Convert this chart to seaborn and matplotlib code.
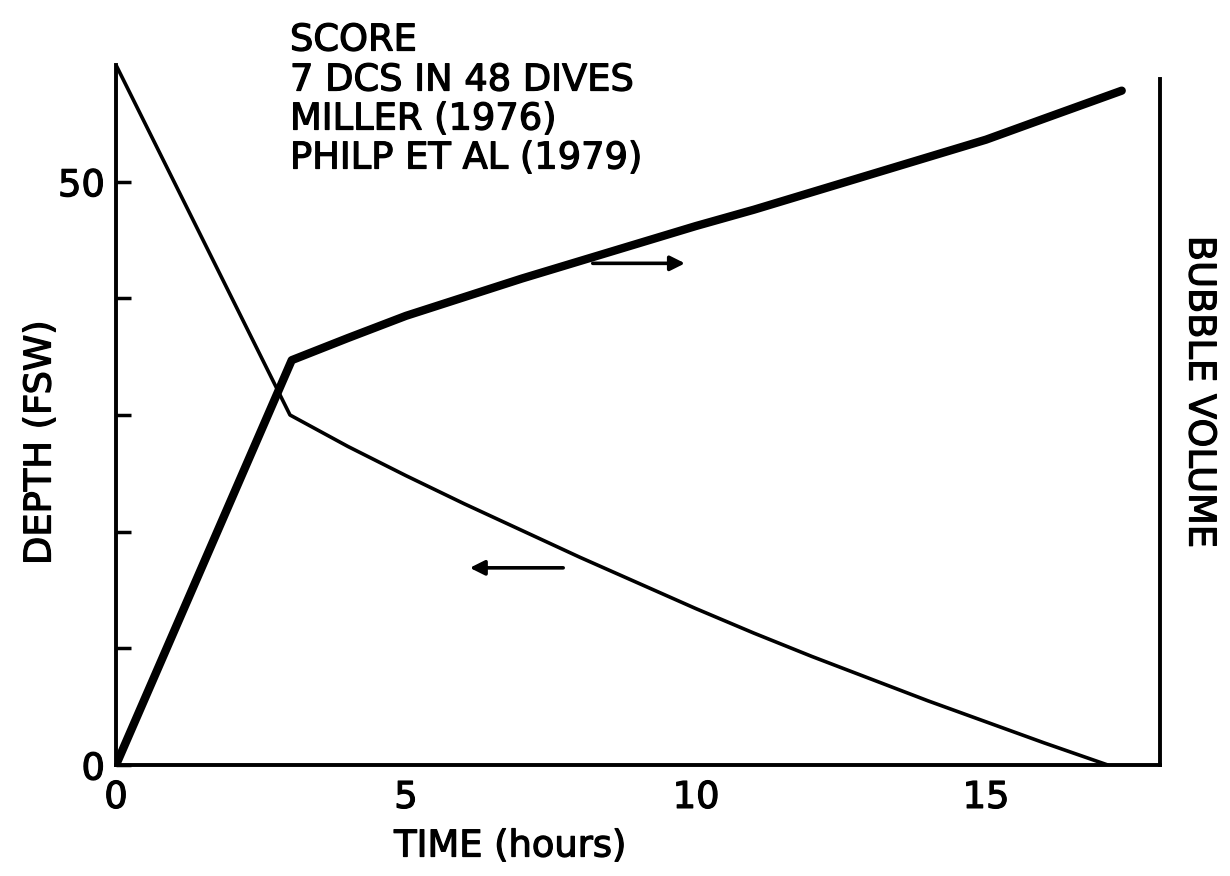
import matplotlib
matplotlib.use("Agg")
import matplotlib.pyplot as plt
import matplotlib.patheffects as pe
import seaborn as sns
import pandas as pd

# ---- data ----
depth_time = [0, 3.0, 4, 5, 6, 7, 8, 9, 10, 11, 12, 13, 14, 15, 16, 17.1]
depth_fsw = [60, 30, 27.3, 24.8, 22.4, 20.1, 17.8, 15.6, 13.4, 11.3, 9.3, 7.4, 5.5, 3.7, 1.9, 0]

bubble_time = [0, 3.03, 4, 5, 6, 7, 8, 9, 10, 11, 12, 13, 14, 15, 16, 17.34]
bubble_volume = [0, 34.7, 36.6, 38.5, 40.1, 41.7, 43.2, 44.7, 46.2, 47.6, 49.1, 50.6, 52.1, 53.6, 55.4, 57.8]

x_ticks = [0, 5, 10, 15]
x_tick_labels = ["0", "5", "10", "15"]
y_ticks = [0, 10, 20, 30, 40, 50]
y_tick_labels = ["0", "", "", "", "", "50"]

annotation_lines = ["SCORE", "7 DCS IN 48 DIVES", "MILLER (1976)", "PHILP ET AL (1979)"]

# ---- styling ----
sns.set_style("white")
plt.rcParams["font.family"] = ["DejaVu Sans"]
plt.rcParams["text.color"] = "black"

FS = 26.5
thick = [pe.withStroke(linewidth=0.9, foreground="black")]
W, H = 1230, 876
fig = plt.figure(figsize=(W / 100, H / 100), dpi=100)
left_px, right_px, bottom_px, top_px = 116, 1160, 765, 65
ax = fig.add_axes([left_px / W, 1 - bottom_px / H, (right_px - left_px) / W, (bottom_px - top_px) / H])

df_depth = pd.DataFrame({"time": depth_time, "value": depth_fsw})
df_bub = pd.DataFrame({"time": bubble_time, "value": bubble_volume})

sns.lineplot(data=df_depth, x="time", y="value", ax=ax, color="black",
             linewidth=2.6, sort=False, solid_capstyle="round", solid_joinstyle="round")

ax.set_xlim(0, 18)
ax.set_ylim(0, 60)

ax2 = ax.twinx()
sns.lineplot(data=df_bub, x="time", y="value", ax=ax2, color="black",
             linewidth=6, sort=False, solid_capstyle="round", solid_joinstyle="round")
ax2.set_ylim(0, 60)
ax2.set_yticks([])
ax2.set_ylabel("")
ax2.set_xlim(0, 18)

for a in (ax, ax2):
    a.spines["top"].set_visible(False)
    for s in ("left", "bottom", "right"):
        a.spines[s].set_linewidth(2.8)
        a.spines[s].set_color("black")
ax.spines["right"].set_visible(False)
ax2.spines["left"].set_visible(False)
ax2.spines["bottom"].set_visible(False)
ax2.spines["right"].set_bounds(0, 58.8)

ax.set_xticks(x_ticks)
ax.set_xticklabels(x_tick_labels)
ax.set_yticks(y_ticks)
ax.set_yticklabels(y_tick_labels)
ax.tick_params(axis="both", direction="in", length=11, width=2.5, labelsize=FS,
               colors="black", labelcolor="black")
ax.tick_params(axis="x", pad=10)
ax.tick_params(axis="y", pad=8)
ax.set_xlabel("")
ax.set_ylabel("")
for lab in ax.get_xticklabels() + ax.get_yticklabels():
    lab.set_path_effects(thick)

# axis titles
fig.text(510 / W, 1 - 846 / H, "TIME (hours)", fontsize=FS, ha="center", va="center",
         color="black", path_effects=thick)
fig.text(40 / W, 1 - 443 / H, "DEPTH (FSW)", fontsize=FS, ha="center", va="center",
         rotation=90, color="black", path_effects=thick)
fig.text(1200 / W, 1 - 392 / H, "BUBBLE VOLUME", fontsize=FS, ha="center", va="center",
         rotation=-90, color="black", path_effects=thick)

# annotation block
line_y = [40, 80, 119, 158]
for txt, yy in zip(annotation_lines, line_y):
    fig.text(290 / W, 1 - yy / H, txt, fontsize=FS, ha="left", va="center",
             color="black", path_effects=thick)

# arrows
ax.annotate("", xy=(9.81, 43.0), xytext=(8.22, 43.0),
            arrowprops=dict(arrowstyle="-|>", lw=2.6, color="black", mutation_scale=22,
                            shrinkA=0, shrinkB=0))
ax.annotate("", xy=(6.10, 16.9), xytext=(7.71, 16.9),
            arrowprops=dict(arrowstyle="-|>", lw=2.6, color="black", mutation_scale=22,
                            shrinkA=0, shrinkB=0))

fig.savefig("out.png", dpi=100, facecolor="white")
